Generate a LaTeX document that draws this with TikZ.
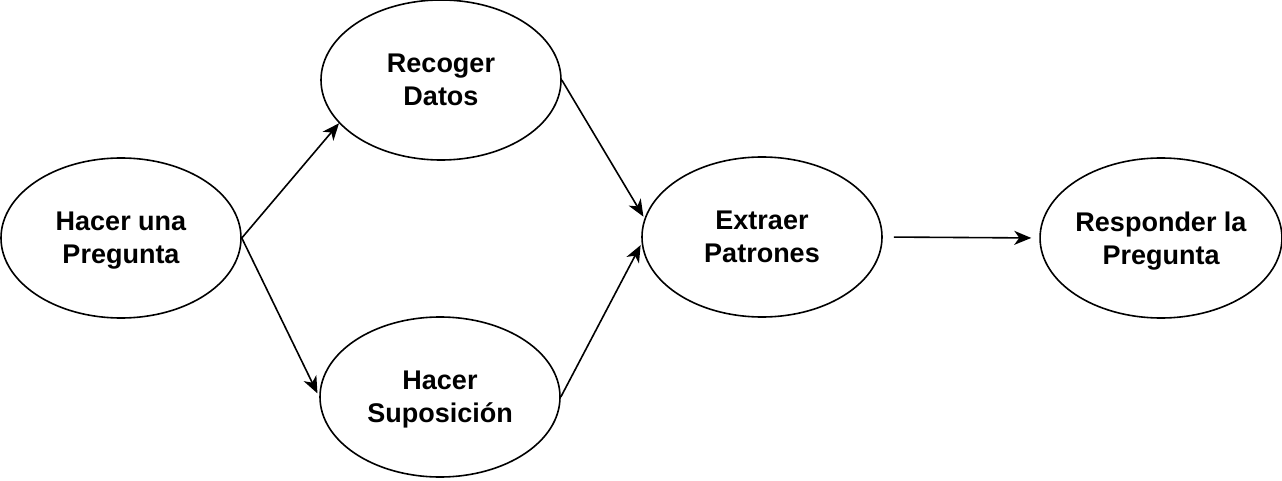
\documentclass[tikz,border=0pt]{standalone}
\usepackage{fontspec}
\setmainfont{Liberation Sans}
\usetikzlibrary{shapes.geometric, arrows.meta}

\begin{document}
\begin{tikzpicture}[x=1pt, y=1pt,
    stage/.style={draw, ellipse, line width=1.6pt, minimum width=240pt, minimum height=160pt,
        inner sep=0pt, align=center, text depth=-5pt, font=\fontsize{27}{33}\selectfont\bfseries},
    flow/.style={line width=1.6pt, -{Stealth[length=17pt, width=14pt, inset=5pt]}}]
    \useasboundingbox (0,0) rectangle (1282,480);

    % Steps of the method
    \node[stage] (hp) at (121,242) {Hacer una\\Pregunta};
    \node[stage] (rd) at (441,400) {Recoger\\Datos};
    \node[stage] (hs) at (440,83) {Hacer\\Suposición};
    \node[stage] (ep) at (762,243) {Extraer\\Patrones};
    \node[stage] (rp) at (1161,242) {Responder la\\Pregunta};

    % Arrows
    \draw[flow] (hp.east) -- (rd.203);
    \draw[flow, shorten >=4pt] (hp.east) -- (hs.west);
    \draw[flow, shorten >=2pt] (rd.east) -- (ep.171);
    \draw[flow, shorten >=2pt] (hs.east) -- (ep.183);
    \draw[flow, shorten <=11pt, shorten >=8pt] (ep.east) -- (rp.west);
\end{tikzpicture}
\end{document}
